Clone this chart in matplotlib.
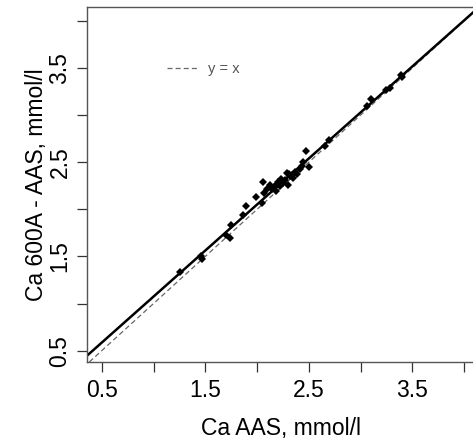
import numpy as np
from matplotlib import pyplot as plt

# Ca by AAS vs Ca by 600A, mmol/l
ca_aas = [1.26, 1.46, 1.47, 1.70, 1.74, 1.75, 1.86, 1.89, 1.99, 2.05,
          2.06, 2.07, 2.10, 2.12, 2.16, 2.18, 2.20, 2.23, 2.25, 2.29,
          2.30, 2.32, 2.34, 2.37, 2.39, 2.41, 2.44, 2.47, 2.50, 2.66,
          2.69, 3.06, 3.10, 3.24, 3.28, 3.39, 3.40, 2.14, 2.19, 2.27,
          2.35, 2.22, 2.31, 2.43]
ca_600a = [1.34, 1.50, 1.47, 1.73, 1.70, 1.83, 1.94, 2.04, 2.13, 2.07,
           2.29, 2.17, 2.22, 2.26, 2.24, 2.19, 2.29, 2.32, 2.28, 2.39,
           2.26, 2.35, 2.36, 2.40, 2.37, 2.43, 2.50, 2.62, 2.45, 2.67,
           2.73, 3.10, 3.17, 3.27, 3.29, 3.42, 3.40, 2.21, 2.27, 2.31,
           2.33, 2.25, 2.37, 2.46]

fit_slope = 0.977
fit_intercept = 0.097

tick_pos = [0.5, 1.0, 1.5, 2.0, 2.5, 3.0, 3.5, 4.0]
tick_lbl = ['0.5', '', '1.5', '', '2.5', '', '3.5', '']

plt.rcParams['font.family'] = ['Liberation Sans', 'DejaVu Sans']

fig = plt.figure(figsize=(4.73, 4.45), dpi=100)
ax = fig.add_axes([0.1833, 0.1865, 0.823, 0.797])

ax.axline((0, 0), slope=1, color='#666666', lw=0.9, ls=(0, (4, 2.5)), label='y = x')
ax.axline((0, fit_intercept), slope=fit_slope, color='black', lw=1.8)
ax.plot(ca_aas, ca_600a, 'D', color='black', markersize=4.5, markeredgewidth=0)

ax.set_xlim(0.355, 4.113)
ax.set_ylim(0.380, 4.142)

ax.set_xticks(tick_pos)
ax.set_xticklabels(tick_lbl, fontsize=16.5)
ax.set_yticks(tick_pos)
ax.set_yticklabels(tick_lbl, fontsize=16.5, rotation=90, va='center')
ax.tick_params(length=7, width=0.9, color='#333333')
ax.tick_params(axis='x', pad=5)
ax.tick_params(axis='y', pad=4)

for s in ax.spines.values():
    s.set_color('#555555')
    s.set_linewidth(1.0)

ax.set_xlabel('Ca AAS, mmol/l', fontsize=16.5, labelpad=11)
ax.set_ylabel('Ca 600A - AAS, mmol/l', fontsize=16.5, labelpad=0)

leg = ax.legend(loc='center left', bbox_to_anchor=(0.206, 0.826), frameon=False,
                fontsize=10.5, handlelength=2.1, handletextpad=0.7,
                borderpad=0, borderaxespad=0)
for t in leg.get_texts():
    t.set_color('#555555')

fig.savefig('out.png')
